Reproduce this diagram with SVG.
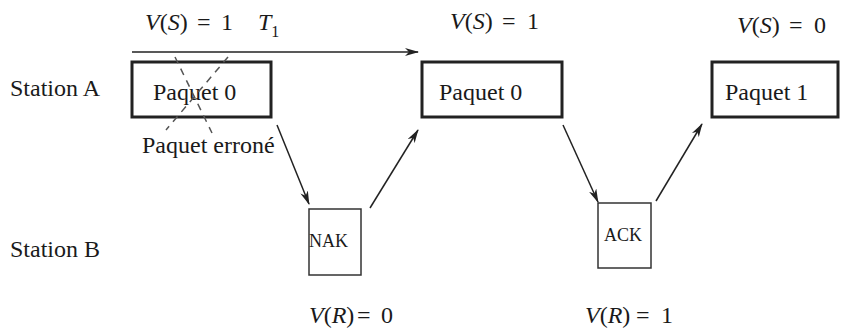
<svg xmlns="http://www.w3.org/2000/svg" width="842" height="333" viewBox="0 0 842 333">
<defs>
<style>
text{font-family:'Liberation Serif','Times New Roman','DejaVu Serif',serif;font-size:24px;fill:#1a1a1a}
.i{font-style:italic}
.small{font-size:18px}
.big{fill:#fff;stroke:#222;stroke-width:3}
.sm{fill:#fff;stroke:#333;stroke-width:1.5}
.ln{stroke:#222;stroke-width:1.5;fill:none}
.dash{stroke:#555;stroke-width:1.5;stroke-dasharray:7 6;fill:none}
</style>
<marker id="ah" viewBox="0 0 14 8" refX="13" refY="4" markerWidth="14" markerHeight="8" markerUnits="userSpaceOnUse" orient="auto">
<path d="M0,0 L14,4 L0,8 L4,4 Z" fill="#222"/>
</marker>
</defs>
<g id="labels" font-family="Liberation Serif, serif">
<text x="10" y="96">Station A</text>
<text x="10" y="257">Station B</text>
<text x="145" y="30"><tspan class="i">V</tspan>(<tspan class="i">S</tspan>)<tspan x="197">=</tspan><tspan x="221">1</tspan></text>
<text x="258" y="30" class="i">T<tspan font-size="16" font-style="normal" dy="7">1</tspan></text>
<text x="450" y="29"><tspan class="i">V</tspan>(<tspan class="i">S</tspan>)<tspan x="502">=</tspan><tspan x="527">1</tspan></text>
<text x="737" y="33"><tspan class="i">V</tspan>(<tspan class="i">S</tspan>)<tspan x="789">=</tspan><tspan x="814">0</tspan></text>
<text x="309" y="323"><tspan class="i">V</tspan>(<tspan class="i">R</tspan>)<tspan x="357">=</tspan><tspan x="381">0</tspan></text>
<text x="585" y="323"><tspan class="i">V</tspan>(<tspan class="i">R</tspan>)<tspan x="636">=</tspan><tspan x="661">1</tspan></text>
<text x="142" y="153">Paquet erroné</text>
</g>
<g id="paquet0a">
<rect class="big" x="132" y="62" width="139" height="55"/>
<text x="153" y="100">Paquet 0</text>
</g>
<g id="paquet0b">
<rect class="big" x="422" y="62" width="140" height="55"/>
<text x="439" y="100">Paquet 0</text>
</g>
<g id="paquet1">
<rect class="big" x="712" y="62" width="126" height="55"/>
<text x="725" y="100">Paquet 1</text>
</g>
<g id="nak">
<rect class="sm" x="309" y="209" width="52" height="66"/>
<text class="small" x="309" y="247">NAK</text>
</g>
<g id="ack">
<rect class="sm" x="598" y="203" width="53" height="65"/>
<text class="small" x="604" y="241">ACK</text>
</g>
<g id="connectors">
<line class="ln" x1="132" y1="52" x2="418" y2="52" marker-end="url(#ah)"/>
<line class="dash" x1="175" y1="57" x2="212" y2="133"/>
<line class="dash" x1="228" y1="57" x2="166" y2="130"/>
<line class="ln" x1="277" y1="125" x2="309" y2="204" marker-end="url(#ah)"/>
<line class="ln" x1="370" y1="208" x2="418" y2="130" marker-end="url(#ah)"/>
<line class="ln" x1="563" y1="125" x2="598" y2="202" marker-end="url(#ah)"/>
<line class="ln" x1="656" y1="201" x2="702" y2="124" marker-end="url(#ah)"/>
</g>
</svg>
